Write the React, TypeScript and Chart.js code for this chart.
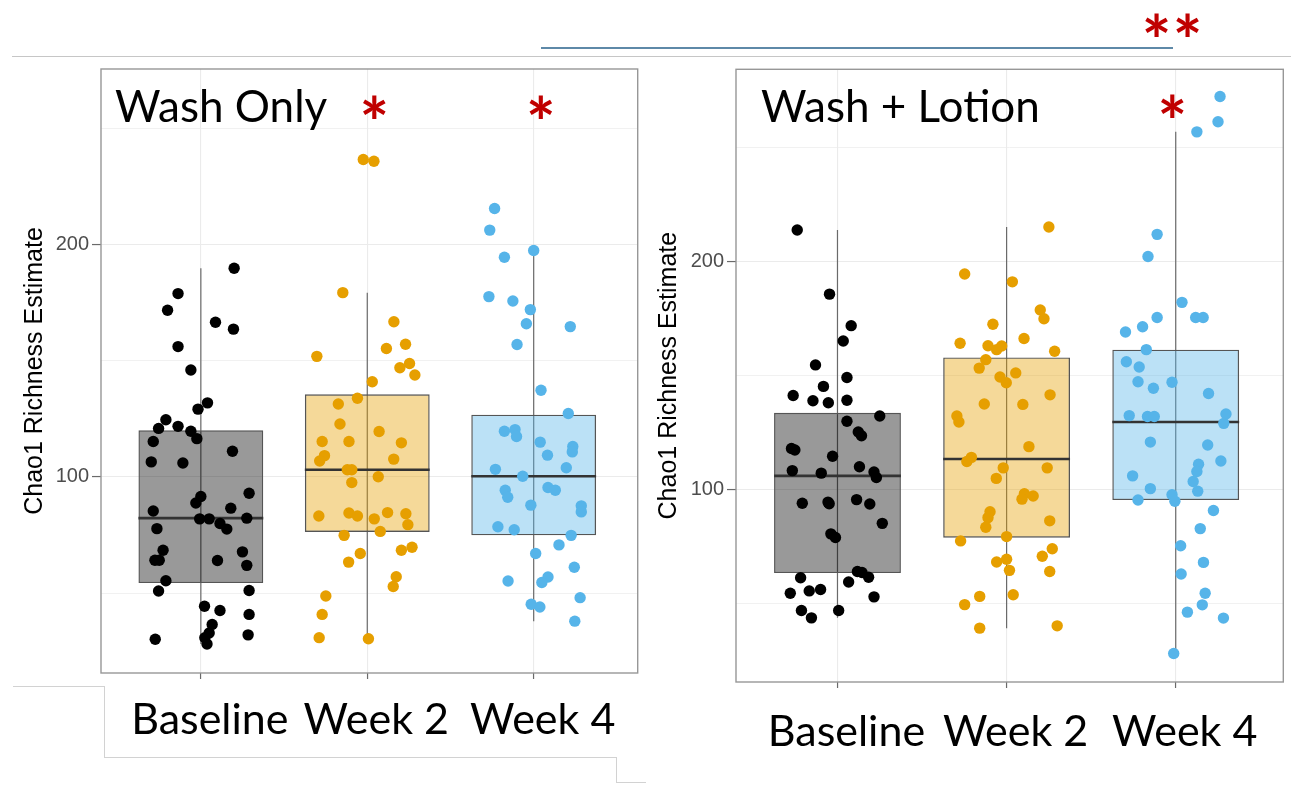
import React, { useEffect, useRef } from 'react';
import { Chart, registerables } from 'chart.js';

Chart.register(...registerables);

// ---------- data ----------
const categories = ['Baseline', 'Week 2', 'Week 4'];
const gridTicks = [50, 100, 150, 200, 250];
const labeledTicks = [100, 200];
const yAxisTitle = 'Chao1 Richness Estimate';

// Wash Only panel
const washBaselineValues = [189.7, 178.8, 171.6, 166.5, 163.5, 156, 145.9, 131.8, 129.1, 124.5, 120.8, 121.7, 119.6, 116.4, 115.2, 111, 106.4, 105.9, 91.5, 88.7, 92.9, 85.3, 86.5, 81.9, 81.9, 79.9, 77.5, 82.2, 77.7, 68.4, 64.1, 64.1, 64, 67.7, 61.9, 55.3, 50.9, 51.1, 44.3, 42.5, 40.8, 36.5, 32.8, 30.8, 28.1, 30.1, 32];
const washBaselineJitter = [0.2, -0.137, -0.2, 0.088, 0.196, -0.137, -0.06, 0.04, -0.017, -0.21, -0.254, -0.137, -0.06, -0.024, -0.286, 0.19, -0.298, -0.108, 0, -0.03, 0.29, -0.286, 0.18, -0.007, 0.05, 0.115, 0.156, 0.276, -0.264, -0.227, -0.276, -0.25, 0.1, 0.25, 0.276, -0.21, -0.254, 0.29, 0.022, 0.115, 0.29, 0.068, 0.05, 0.024, 0.037, -0.274, 0.284];
const washWeek2Values = [236.5, 235.7, 179.2, 166.7, 157, 155.2, 151.8, 148.7, 146.9, 143.8, 140.9, 133.8, 131.3, 122.7, 119.5, 115.2, 115.2, 114.6, 109.1, 106.8, 107.6, 103, 103, 100, 97.5, 83.1, 84.4, 83.1, 81.9, 84.6, 84.1, 79.4, 76.5, 74.8, 67, 63.3, 68.4, 69.7, 57, 52.8, 48.7, 40.8, 30.8, 30.3];
const washWeek2Jitter = [-0.024, 0.04, -0.147, 0.16, 0.23, 0.115, -0.303, 0.254, 0.196, 0.286, 0.03, -0.059, -0.174, -0.164, 0.071, -0.271, -0.11, 0.205, -0.257, -0.286, 0.159, -0.12, -0.093, 0.066, -0.093, -0.291, -0.11, -0.059, 0.042, 0.122, 0.232, 0.244, 0.078, -0.139, -0.042, -0.112, 0.205, 0.269, 0.174, 0.156, -0.249, -0.271, -0.289, 0.007];
const washWeek4Values = [215.4, 206.1, 197.3, 194.4, 177.5, 175.6, 171.9, 165.8, 164.6, 156.9, 137.2, 127.2, 119.6, 120.3, 117.3, 114.9, 113, 110.7, 109.3, 103.2, 103.9, 100.2, 94.2, 91.2, 95.4, 94.2, 87.8, 87.5, 84.9, 78.5, 77.2, 74.8, 70.7, 67, 61.1, 55.2, 56.9, 54.5, 45.2, 44, 48, 37.9];
const washWeek4Jitter = [-0.235, -0.264, 0, -0.176, -0.269, -0.125, -0.02, -0.044, 0.22, -0.1, 0.044, 0.208, -0.176, -0.112, -0.103, 0.039, 0.235, 0.232, 0.083, -0.23, 0.196, -0.066, -0.171, -0.156, 0.086, 0.13, -0.017, 0.286, 0.286, -0.215, -0.117, 0.225, 0.152, 0.012, 0.244, -0.154, 0.086, 0.049, -0.015, 0.037, 0.279, 0.247];
const washQ1 = [54.3, 76.3, 74.8];
const washMedian = [82.2, 103, 100.2];
const washQ3 = [120, 135.5, 126.7];
const washWhiskerLow = [28.1, 30.3, 37.9];
const washWhiskerHigh = [189.7, 179.2, 197.3];
const washSignificant = ['Week 2', 'Week 4'];

// Wash + Lotion panel
const lotionBaselineValues = [213.7, 185.6, 171.8, 165.1, 154.6, 149.1, 145.2, 141.2, 138.9, 138, 139.1, 132.2, 129.9, 125.2, 123.6, 118, 117.3, 114.6, 108.3, 107.2, 110, 107.7, 105.3, 94, 94.5, 93.8, 95.6, 93.7, 85.2, 80.6, 79, 61.4, 64.1, 63.7, 61.6, 59.5, 54.6, 55.6, 56.2, 53, 47, 47, 43.8];
const lotionBaselineJitter = [-0.238, -0.047, 0.081, 0.034, -0.13, 0.056, -0.083, -0.262, -0.145, -0.054, 0.056, 0.25, 0.056, 0.123, 0.142, -0.272, -0.252, -0.029, -0.267, -0.096, 0.13, 0.216, 0.23, -0.208, -0.056, -0.049, 0.113, 0.191, 0.265, -0.039, -0.012, -0.218, 0.118, 0.145, 0.184, 0.066, -0.279, -0.167, -0.1, 0.216, -0.213, 0.007, -0.154];
const lotionWeek2Values = [215, 194.4, 191, 178.7, 174.8, 172.4, 166.2, 164.1, 163, 162.9, 161.3, 160.6, 156.9, 153.2, 151.1, 149.3, 146.8, 141.5, 137.5, 137.3, 132.2, 129.6, 118.8, 114.1, 112.3, 109.5, 109.5, 104.9, 98.2, 97.2, 95.8, 90.3, 87.7, 86.3, 83.5, 79.4, 77.5, 74.1, 70.8, 68.3, 69.5, 64.6, 64.1, 53.9, 53.2, 49.6, 39.3, 40.3];
const lotionWeek2Jitter = [0.25, -0.248, 0.034, 0.199, 0.221, -0.081, 0.103, -0.275, -0.11, -0.029, -0.059, 0.284, -0.123, -0.162, 0.054, -0.039, -0.002, 0.257, -0.132, 0.096, -0.294, -0.282, 0.132, -0.208, -0.235, -0.02, 0.24, -0.061, 0.105, 0.157, 0.091, -0.098, -0.11, 0.255, -0.123, 0, -0.272, 0.27, 0.211, -0.059, 0, 0.017, 0.255, 0.039, -0.159, -0.248, -0.159, 0.299];
const lotionWeek4Values = [272.2, 261.1, 256.7, 211.8, 202.1, 182, 175.4, 175.4, 175.4, 169, 171.3, 161.3, 156, 153.7, 147.2, 147, 144.4, 142.1, 132.4, 132, 132, 133.1, 129, 120.8, 119.5, 111.1, 107.9, 112.5, 106, 103.5, 99.3, 100.4, 97.7, 95.4, 94.9, 90.8, 82.9, 75.4, 68.1, 63, 54.6, 49.5, 46.3, 43.7, 28.2];
const lotionWeek4Jitter = [0.262, 0.25, 0.125, -0.11, -0.164, 0.037, -0.11, 0.118, 0.162, -0.297, -0.196, -0.174, -0.292, -0.216, -0.223, -0.022, -0.132, 0.194, -0.275, -0.167, -0.127, 0.297, 0.284, -0.15, 0.189, 0.135, 0.125, 0.267, -0.255, 0.103, 0.13, -0.15, -0.022, -0.223, -0.005, 0.223, 0.145, 0.029, 0.164, 0.032, 0.174, 0.157, 0.069, 0.282, -0.012];
const lotionQ1 = [63.4, 78.9, 95.4];
const lotionMedian = [106, 113.4, 129.6];
const lotionQ3 = [133.6, 157.9, 161.3];
const lotionWhiskerLow = [43.8, 39.3, 28.2];
const lotionWhiskerHigh = [213.7, 215, 256.7];
const lotionSignificant = ['Week 4'];
const lotionVsWashSignificant = '**';

// ---------- styles ----------
const pointColors = ['#000000', '#E69F00', '#56B4E9'];
const boxFills = ['rgba(0,0,0,0.4)', 'rgba(230,159,0,0.4)', 'rgba(86,180,233,0.4)'];
const BOX_HALF = 0.375;
const STAR_RED = '#C00000';
const STAR_FONT = 'bold {S}px Lato';
const STAR_WIDTH = 23;
const TOP_STARS_SPAN = 55;
const TOP_STARS_TOP = 13;

type PanelSpec = {
  title: string;
  values: number[][];
  jitter: number[][];
  q1: number[];
  median: number[];
  q3: number[];
  low: number[];
  high: number[];
  stars: string[];
  topStars?: string;
  yMin: number;
  yMax: number;
  xMax: number;
  yAxisWidth: number;
  xAxisHeight: number;
  padTop: number;
  padRight: number;
  yTitlePad: number;
  xLabelPad: number;
  titleX: number;
  titleBaseline: number;
  starDx: number;
  starTop: number;
};

const framePlugin = {
  id: 'panelFrame',
  afterDraw(chart: any) {
    const { ctx, chartArea: a } = chart;
    ctx.save();
    ctx.strokeStyle = '#979797';
    ctx.lineWidth = 1.4;
    ctx.strokeRect(a.left, a.top, a.right - a.left, a.bottom - a.top);
    ctx.restore();
  },
};

function starFontSize(ctx: CanvasRenderingContext2D) {
  ctx.font = STAR_FONT.replace('{S}', '100');
  const m = ctx.measureText('*');
  const w = (m.actualBoundingBoxRight + m.actualBoundingBoxLeft) || 40;
  return (100 * STAR_WIDTH) / w;
}

function makeAnnotPlugin(p: PanelSpec) {
  return {
    id: 'panelAnnot',
    afterDraw(chart: any) {
      const ctx = chart.ctx;
      const xs = chart.scales.x;
      ctx.save();
      ctx.fillStyle = '#000';
      ctx.font = '44px Lato';
      ctx.textAlign = 'left';
      ctx.textBaseline = 'alphabetic';
      ctx.fillText(p.title, p.titleX, p.titleBaseline);

      ctx.fillStyle = STAR_RED;
      const size = starFontSize(ctx);
      ctx.font = STAR_FONT.replace('{S}', size.toFixed(1));
      ctx.textAlign = 'center';
      const m = ctx.measureText('*');
      p.stars.forEach((cat) => {
        const x = xs.getPixelForValue(categories.indexOf(cat) + 1) + p.starDx;
        ctx.fillText('*', x, p.starTop + m.actualBoundingBoxAscent);
      });
      if (p.topStars) {
        const cx = xs.getPixelForValue(categories.length) + p.starDx;
        ctx.textAlign = 'left';
        const plain = ctx.measureText(p.topStars);
        const span = plain.actualBoundingBoxLeft + plain.actualBoundingBoxRight;
        const n = p.topStars.length;
        const extra = n > 1 ? Math.max(0, TOP_STARS_SPAN - span) / (n - 1) : 0;
        if ('letterSpacing' in ctx) (ctx as any).letterSpacing = `${extra.toFixed(1)}px`;
        const total = span + extra * (n - 1);
        const leftEdge = cx - total / 2;
        ctx.fillText(p.topStars, leftEdge + plain.actualBoundingBoxLeft, TOP_STARS_TOP + m.actualBoundingBoxAscent);
      }
      ctx.restore();
    },
  };
}

function makeConfig(p: PanelSpec): any {
  const datasets: any[] = [];
  categories.forEach((_, i) => {
    datasets.push({
      type: 'line',
      data: [{ x: i + 1, y: p.low[i] }, { x: i + 1, y: p.high[i] }],
      borderColor: '#6a6a6a',
      borderWidth: 1.2,
      pointRadius: 0,
      fill: false,
      order: 4,
    });
  });
  datasets.push({
    type: 'bar',
    data: categories.map((_, i) => ({ x: i + 1, y: [p.q1[i], p.q3[i]] })),
    backgroundColor: boxFills,
    borderColor: '#555555',
    borderWidth: 1.4,
    borderSkipped: false,
    barPercentage: 0.75,
    categoryPercentage: 1,
    order: 3,
  });
  categories.forEach((_, i) => {
    datasets.push({
      type: 'line',
      data: [{ x: i + 1 - BOX_HALF, y: p.median[i] }, { x: i + 1 + BOX_HALF, y: p.median[i] }],
      borderColor: '#333333',
      borderWidth: 2.6,
      pointRadius: 0,
      fill: false,
      order: 2,
    });
  });
  categories.forEach((_, i) => {
    datasets.push({
      type: 'scatter',
      data: p.values[i].map((v, k) => ({ x: i + 1 + p.jitter[i][k], y: v })),
      backgroundColor: pointColors[i],
      borderWidth: 0,
      pointRadius: 5.7,
      order: 1,
    });
  });

  return {
    type: 'scatter',
    data: { datasets },
    options: {
      responsive: false,
      animation: false,
      events: [],
      layout: { padding: { top: p.padTop, right: p.padRight, left: 0, bottom: 0 } },
      plugins: { legend: { display: false }, tooltip: { enabled: false }, title: { display: false } },
      scales: {
        x: {
          type: 'linear',
          min: 0.4,
          max: p.xMax,
          offset: false,
          afterBuildTicks: (s: any) => {
            s.ticks = categories.map((_, i) => ({ value: i + 1 }));
          },
          afterFit: (s: any) => {
            s.height = p.xAxisHeight;
          },
          grid: { color: '#EBEBEB', lineWidth: 1.1, offset: false, drawTicks: true, tickLength: 6, tickColor: '#6a6a6a', tickWidth: 1.2 },
          border: { display: false },
          ticks: {
            autoSkip: false,
            maxRotation: 0,
            minRotation: 0,
            labelOffset: 9,
            padding: p.xLabelPad,
            color: '#000',
            font: { family: 'Lato', size: 43 },
            callback: (v: any) => categories[Math.round(v) - 1] ?? '',
          },
        },
        y: {
          type: 'linear',
          min: p.yMin,
          max: p.yMax,
          afterBuildTicks: (s: any) => {
            s.ticks = gridTicks.map((v) => ({ value: v }));
          },
          afterFit: (s: any) => {
            s.width = p.yAxisWidth;
          },
          grid: {
            color: '#EBEBEB',
            lineWidth: (c: any) => (labeledTicks.includes(c.tick?.value) ? 1.1 : 0.7),
            tickLength: 9,
            tickWidth: 1.2,
            tickColor: (c: any) => (labeledTicks.includes(c.tick?.value) ? '#6a6a6a' : 'rgba(0,0,0,0)'),
          },
          border: { display: false },
          ticks: {
            padding: 3,
            color: '#4D4D4D',
            font: { family: 'Liberation Sans', size: 20 },
            callback: (v: any) => (labeledTicks.includes(v) ? String(v) : ''),
          },
          title: {
            display: true,
            text: yAxisTitle,
            color: '#000',
            font: { family: 'Liberation Sans', size: 25, lineHeight: 1 },
            padding: { top: p.yTitlePad, bottom: 0 },
          },
        },
      },
    },
    plugins: [framePlugin, makeAnnotPlugin(p)],
  };
}

const washPanel: PanelSpec = {
  title: 'Wash Only',
  values: [washBaselineValues, washWeek2Values, washWeek4Values],
  jitter: [washBaselineJitter, washWeek2Jitter, washWeek4Jitter],
  q1: washQ1,
  median: washMedian,
  q3: washQ3,
  low: washWhiskerLow,
  high: washWhiskerHigh,
  stars: washSignificant,
  yMin: 15.6,
  yMax: 275.4,
  xMax: 3.625,
  yAxisWidth: 101,
  xAxisHeight: 116,
  padTop: 69,
  padRight: 52.3,
  yTitlePad: 23,
  xLabelPad: 15,
  titleX: 115,
  titleBaseline: 122,
  starDx: 7,
  starTop: 95,
};

const lotionPanel: PanelSpec = {
  title: 'Wash + Lotion',
  values: [lotionBaselineValues, lotionWeek2Values, lotionWeek4Values],
  jitter: [lotionBaselineJitter, lotionWeek2Jitter, lotionWeek4Jitter],
  q1: lotionQ1,
  median: lotionMedian,
  q3: lotionQ3,
  low: lotionWhiskerLow,
  high: lotionWhiskerHigh,
  stars: lotionSignificant,
  topStars: lotionVsWashSignificant,
  yMin: 15.7,
  yMax: 284.1,
  xMax: 3.636,
  yAxisWidth: 91,
  xAxisHeight: 107,
  padTop: 69.3,
  padRight: 7.7,
  yTitlePad: 12,
  xLabelPad: 18,
  titleX: 116,
  titleBaseline: 122,
  starDx: -3.5,
  starTop: 94,
};

const line = (left: number, top: number, width: number, height: number, color: string): React.CSSProperties => ({
  position: 'absolute',
  left,
  top,
  width,
  height,
  background: color,
});

export default function App() {
  const leftRef = useRef<HTMLCanvasElement>(null);
  const rightRef = useRef<HTMLCanvasElement>(null);

  useEffect(() => {
    const c1 = new Chart(leftRef.current as HTMLCanvasElement, makeConfig(washPanel));
    const c2 = new Chart(rightRef.current as HTMLCanvasElement, makeConfig(lotionPanel));
    return () => {
      c1.destroy();
      c2.destroy();
    };
  }, []);

  const deco = '#d2d2d2';
  return (
    <div style={{ position: 'absolute', left: 0, top: 0, width: 1291, height: 789, background: '#fff', overflow: 'hidden' }}>
      <div style={line(12, 56, 1279, 1, '#c6c6c6')} />
      <div style={line(541, 47, 632, 2, '#5E89A8')} />
      <div style={line(13, 686, 91, 1, deco)} />
      <div style={line(104, 686, 1, 71, deco)} />
      <div style={line(104, 757, 513, 1, deco)} />
      <div style={line(616, 757, 1, 26, deco)} />
      <div style={line(616, 782, 30, 1, deco)} />
      <canvas ref={leftRef} width={690} height={789} style={{ position: 'absolute', left: 0, top: 0, width: 690, height: 789 }} />
      <canvas ref={rightRef} width={646} height={789} style={{ position: 'absolute', left: 645, top: 0, width: 646, height: 789 }} />
    </div>
  );
}
